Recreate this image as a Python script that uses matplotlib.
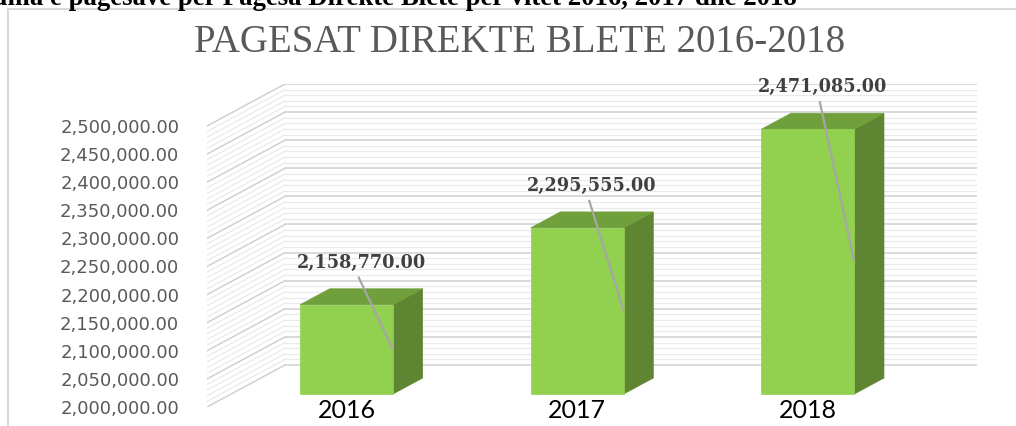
import numpy as np
import matplotlib.pyplot as plt
from matplotlib.patches import Polygon, Rectangle

# --- chart data
years = ['2016', '2017', '2018']
payments = [2158770.00, 2295555.00, 2471085.00]
y_ticks = np.arange(2000000, 2500001, 50000)
title = 'PAGESAT DIREKTE BLETE 2016-2018'
caption = 'Grafiku 1. Shuma e pagesave per Pagesa Direkte Blete per vitet 2016, 2017 dhe 2018'

# --- layout in pixels of the 1016x426 canvas
W, H = 1016, 426
front_left, back_right = 207, 977      # left wall front edge, back wall right edge
floor_front, top_front = 407, 126      # pixel rows of 2,000,000 and 2,500,000 on the front plane
depth_px = (78, 42)                    # oblique offset front -> back wall

base = y_ticks[0]
top = y_ticks[-1]
cat_px = (back_right - depth_px[0] - front_left) / len(years)
val_px = (floor_front - top_front) / (top - base)
DX = depth_px[0] / cat_px              # depth offset in category units
DY = depth_px[1] / val_px              # depth offset in value units
px_x = 1 / cat_px
px_y = 1 / val_px

d0, d1 = 0.31, 0.69                    # bar front / back depth
bw = 0.403                             # bar width (category units)

c_front, c_top, c_side = '#92D050', '#70A03B', '#5E8632'

fig = plt.figure(figsize=(W / 100, H / 100), dpi=100)
ax = fig.add_axes([front_left / W, (H - floor_front) / H,
                   (back_right - front_left) / W,
                   (floor_front - top_front + depth_px[1]) / H])
ax.set_xlim(-0.5, len(years) - 0.5 + DX)
ax.set_ylim(base, top + DY)
ax.patch.set_visible(False)
for s in ax.spines.values():
    s.set_visible(False)

# --- walls: back wall + left side wall grid lines
for v in np.arange(base, top + 1, 10000):
    major = (v % 50000 == 0)
    col = '#D0D0D0' if major else '#EAEAEA'
    lw = 1.1 if major else 0.9
    ax.plot([-0.5, -0.5 + DX], [v, v + DY], color=col, lw=lw, zorder=1)
    ax.plot([-0.5 + DX, len(years) - 0.5 + DX], [v + DY, v + DY], color=col, lw=lw, zorder=1)

# --- 3d bars
for i, (yr, v) in enumerate(zip(years, payments)):
    xl, xr = i - bw / 2, i + bw / 2
    front = [(xl + d0 * DX, base + d0 * DY), (xr + d0 * DX, base + d0 * DY),
             (xr + d0 * DX, v + d0 * DY), (xl + d0 * DX, v + d0 * DY)]
    side = [(xr + d0 * DX, base + d0 * DY), (xr + d1 * DX, base + d1 * DY),
            (xr + d1 * DX, v + d1 * DY), (xr + d0 * DX, v + d0 * DY)]
    topf = [(xl + d0 * DX, v + d0 * DY), (xr + d0 * DX, v + d0 * DY),
            (xr + d1 * DX, v + d1 * DY), (xl + d1 * DX, v + d1 * DY)]
    ax.add_patch(Polygon(side, closed=True, fc=c_side, ec=c_side, lw=0.5, zorder=3))
    ax.add_patch(Polygon(topf, closed=True, fc=c_top, ec=c_top, lw=0.5, zorder=3))
    ax.add_patch(Polygon(front, closed=True, fc=c_front, ec=c_front, lw=0.5, zorder=4))

    # data label + leader line
    lx = i + 0.5 * DX
    ly = v + 0.5 * DY + 34 * px_y
    ax.plot([lx - 3 * px_x, xr + d0 * DX], [ly - 14 * px_y, base + (v - base) / 2 + d0 * DY],
            color='#A6A6A6', lw=1.6, zorder=5, solid_capstyle='butt')
    ax.text(lx, ly, f'{v:,.2f}', ha='center', va='center', color='#404040',
            fontsize=12.7, fontweight='bold', family='DejaVu Serif', zorder=6)

    # category label
    ax.text(i + d0 * DX, base + d0 * DY - 17 * px_y, yr, ha='center', va='center',
            color='black', fontsize=18, family='Lato', clip_on=False)

# --- value axis on the front plane
ax.set_xticks([])
ax.set_yticks(y_ticks)
ax.set_yticklabels([f'{t:,.2f}' for t in y_ticks])
ax.tick_params(axis='y', length=0, pad=20, labelsize=13, labelcolor='#595959')

# --- title, caption (cut at the top edge, as in the source), chart border
fig.text(520 / W, 1 - 42 / H, title, ha='center', va='center', color='#595959',
         fontsize=28, family='Liberation Serif')
fig.text(797 / W, 1 - 5 / H, caption, ha='right', va='baseline', color='black',
         fontsize=19.3, fontweight='bold', family='Liberation Serif')
fig.add_artist(Rectangle((8 / W, -0.05), 1.05, 1 - 9 / H + 0.05, transform=fig.transFigure,
                         fill=False, ec='#D9D9D9', lw=1.5))

fig.savefig('out.png', dpi=100)
